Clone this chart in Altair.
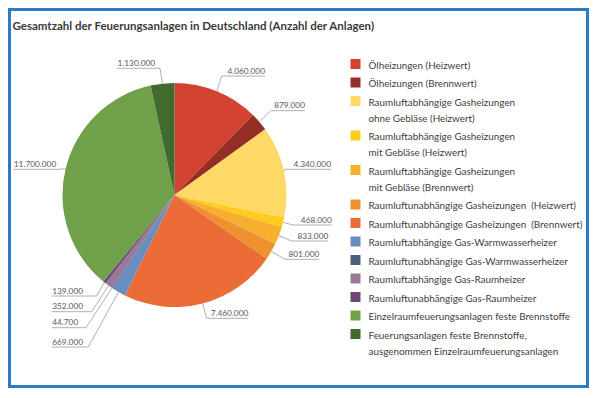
import altair as alt
import pandas as pd

# ---------------- data ----------------
NB = "\u00a0"
names = [
    "Ölheizungen (Heizwert)",
    "Ölheizungen (Brennwert)",
    "Raumluftabhängige Gasheizungen\nohne Gebläse (Heizwert)",
    "Raumluftabhängige Gasheizungen\nmit Gebläse (Heizwert)",
    "Raumluftabhängige Gasheizungen\nmit Gebläse (Brennwert)",
    "Raumluftunabhängige Gasheizungen" + NB + " (Heizwert)",
    "Raumluftunabhängige Gasheizungen" + NB + " (Brennwert)",
    "Raumluftabhängige Gas-Warmwasserheizer",
    "Raumluftunabhängige Gas-Warmwasserheizer",
    "Raumluftabhängige Gas-Raumheizer",
    "Raumluftunabhängige Gas-Raumheizer",
    "Einzelraumfeuerungsanlagen feste Brennstoffe",
    "Feuerungsanlagen feste Brennstoffe,\nausgenommen Einzelraumfeuerungsanlagen",
]
values = [4060000, 879000, 4340000, 468000, 833000, 801000, 7460000,
          669000, 44700, 352000, 139000, 11700000, 1130000]
colors = ["#D24231", "#952E24", "#FFD966", "#FFCC1F", "#F7B02E", "#F0912F",
          "#EB6C37", "#6A8DC0", "#4B5E7E", "#9A7897", "#6A4675", "#70A14A", "#426A2E"]
title_text = "Gesamtzahl der Feuerungsanlagen in Deutschland (Anzahl der Anlagen)"

# ---------------- layout (page pixel coordinates) ----------------
OFF = 8
W, H = 581, 380
CX, CY, R = 174.5 - OFF, 195 - OFF, 112
# leader line elbow and far end of the underline for each slice label
elbow_x = [221.7, 270.7, 285, 293, 291.7, 285, 206.7, 88.3, 86, 91.7, 96.7, 58.3, 160]
elbow_y = [76, 110.7, 169.3, 225, 241, 259.3, 318.3, 347, 327.7, 311.7, 296, 169.3, 68.3]
under_x = [265, 305, 331, 331.7, 328.3, 319.3, 248.3, 51.7, 51.7, 51.7, 51.7, 13.3, 117]

FONT = "Lato"
LABEL_COLOR = "#595959"
LINE_COLOR = "#A6A6A6"

def fmt(v):
    return f"{v:,.0f}".replace(",", ".")

df = pd.DataFrame({
    "idx": range(len(values)),
    "name": names,
    "value": values,
    "label": [fmt(v) for v in values],
    "ex": [x - OFF for x in elbow_x],
    "ey": [y - OFF for y in elbow_y],
    "ux": [x - OFF for x in under_x],
})
df["ty"] = df["ey"] - 2.3

# legend rows
leg_rows = []
y = 65.5
for i, n in enumerate(names):
    lines = n.split("\n")
    for j, ln in enumerate(lines):
        leg_rows.append({"idx": i, "name": n, "text": ln, "y": y + j * 16 - OFF, "first": j == 0})
    y += 18.5 + 16 * (len(lines) - 1)
leg = pd.DataFrame(leg_rows)

xs = alt.Scale(domain=[0, W], nice=False, zero=False)
ys = alt.Scale(domain=[0, H], reverse=True, nice=False, zero=False)
cscale = alt.Scale(domain=names, range=colors)

pie = alt.Chart(df).mark_arc(radius=R, stroke=None).encode(
    theta=alt.Theta("value:Q", stack=True),
    color=alt.Color("name:N", scale=cscale, legend=None),
    order=alt.Order("idx:Q"),
    x=alt.value(CX),
    y=alt.value(CY),
)

base_lab = alt.Chart(df).transform_joinaggregate(
    total="sum(value)"
).transform_window(
    cum="sum(value)", sort=[alt.SortField("idx")], frame=[None, 0]
).transform_calculate(
    a="2*PI*(datum.cum - datum.value/2)/datum.total",
    sx=f"{CX} + {R}*sin(datum.a)",
    sy=f"{CY} - {R}*cos(datum.a)",
)

leader = base_lab.mark_rule(color=LINE_COLOR, strokeWidth=0.9).encode(
    x=alt.X("sx:Q", scale=xs, axis=None),
    y=alt.Y("sy:Q", scale=ys, axis=None),
    x2="ex:Q",
    y2="ey:Q",
)
underline = alt.Chart(df).mark_rule(color=LINE_COLOR, strokeWidth=0.9).encode(
    x=alt.X("ex:Q", scale=xs, axis=None),
    x2="ux:Q",
    y=alt.Y("ey:Q", scale=ys, axis=None),
)
lab_r = alt.Chart(df).transform_filter("datum.ux > datum.ex").mark_text(
    align="right", baseline="alphabetic", font=FONT, fontSize=8.3, color=LABEL_COLOR
).encode(
    x=alt.X("ux:Q", scale=xs, axis=None),
    y=alt.Y("ty:Q", scale=ys, axis=None),
    text="label:N",
)
lab_l = alt.Chart(df).transform_filter("datum.ux < datum.ex").mark_text(
    align="left", baseline="alphabetic", font=FONT, fontSize=8.3, color=LABEL_COLOR, dx=0.5
).encode(
    x=alt.X("ux:Q", scale=xs, axis=None),
    y=alt.Y("ty:Q", scale=ys, axis=None),
    text="label:N",
)

leg_sq = alt.Chart(leg).transform_filter("datum.first").transform_calculate(
    ysq="datum.y - 1.5"
).mark_square(size=100, opacity=1).encode(
    x=alt.value(355.5 - OFF),
    y=alt.Y("ysq:Q", scale=ys, axis=None),
    color=alt.Color("name:N", scale=cscale, legend=None),
)

leg_txt = alt.Chart(leg).mark_text(
    align="left", baseline="middle", font=FONT, fontSize=9.9, color="#404040"
).encode(
    x=alt.value(368.5 - OFF),
    y=alt.Y("y:Q", scale=ys, axis=None),
    text="text:N",
)

one = pd.DataFrame({"t": [title_text]})
title = alt.Chart(one).mark_text(
    align="left", baseline="middle", font=FONT, fontSize=11.5, fontWeight="bold", color="#3A3A3A"
).encode(x=alt.value(12.5 - OFF), y=alt.value(26.7 - OFF), text="t:N")

border = alt.Chart(one).mark_rect(fillOpacity=0, stroke="#2E7BC4", strokeWidth=3).encode(
    x=alt.value(1.5), x2=alt.value(W - 1.5), y=alt.value(1.5), y2=alt.value(H - 1.5)
)

chart = alt.layer(
    pie, leader, underline, lab_r, lab_l, leg_sq, leg_txt, title, border
).properties(
    width=W, height=H, padding=0, autosize="none", background="white"
).configure_view(stroke=None)

chart.save("out.html", embed_options={"renderer": "svg", "actions": False})
